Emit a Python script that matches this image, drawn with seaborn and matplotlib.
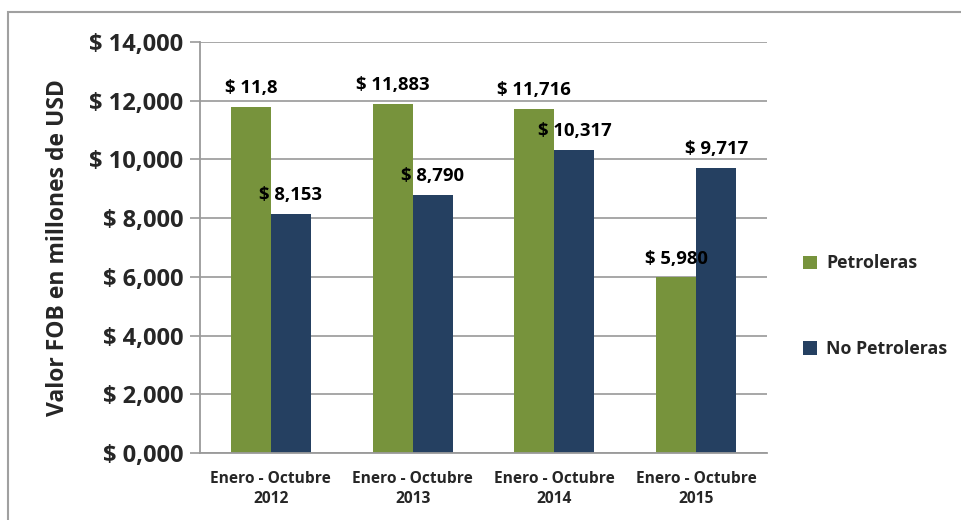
import matplotlib
matplotlib.use("Agg")
import matplotlib.pyplot as plt
import seaborn as sns
import pandas as pd
from matplotlib.patches import Rectangle

categories = ["Enero - Octubre\n2012", "Enero - Octubre\n2013", "Enero - Octubre\n2014", "Enero - Octubre\n2015"]
petroleras = [11800, 11883, 11716, 5980]
no_petroleras = [8153, 8790, 10317, 9717]
petroleras_labels = ["$ 11,8", "$ 11,883", "$ 11,716", "$ 5,980"]
no_petroleras_labels = ["$ 8,153", "$ 8,790", "$ 10,317", "$ 9,717"]
series = ["Petroleras", "No Petroleras"]
yticks = [0, 2000, 4000, 6000, 8000, 10000, 12000, 14000]
ytick_labels = ["$ 0,000", "$ 2,000", "$ 4,000", "$ 6,000", "$ 8,000", "$ 10,000", "$ 12,000", "$ 14,000"]

df = pd.DataFrame({
    "cat": categories * 2,
    "serie": [series[0]] * 4 + [series[1]] * 4,
    "val": petroleras + no_petroleras,
})

sns.set_theme(style="white")
plt.rcParams['font.family'] = ['Open Sans', 'DejaVu Sans']
plt.rcParams['font.weight'] = 'bold'

fig = plt.figure(figsize=(9.62, 5.2), dpi=100)
ax = fig.add_axes([200/962, 1-453/520, 567/962, 411/520])

palette = {"Petroleras": "#77933C", "No Petroleras": "#254061"}
sns.barplot(data=df, x="cat", y="val", hue="serie", palette=palette, ax=ax,
            width=0.565, saturation=1, edgecolor="none", legend=True)

for cont, labs in zip(ax.containers, [petroleras_labels, no_petroleras_labels]):
    ax.bar_label(cont, labels=labs, padding=7, fontsize=13.3, fontweight='bold', color='black')

ax.set_ylim(0, 14000)
ax.set_yticks(yticks)
ax.set_yticklabels(ytick_labels, fontsize=17, fontweight='bold')
ax.tick_params(axis='y', length=7, width=1.2, color='#9a9a9a', direction='out', pad=5, left=True)
ax.tick_params(axis='x', length=0, pad=13, labelsize=11.2)
for lab in ax.get_xticklabels():
    lab.set_fontweight('bold')
    lab.set_linespacing(1.3)
ax.yaxis.grid(True, color='#a0a0a0', linewidth=1.3)
ax.set_axisbelow(True)
ax.set_xlabel("")
ax.set_ylabel("Valor FOB en millones de USD", fontsize=16.5, fontweight='bold')
ax.yaxis.set_label_coords(-130/567, 0.5)

for s in ["top", "right"]:
    ax.spines[s].set_visible(False)
for s in ["left", "bottom"]:
    ax.spines[s].set_color('#9a9a9a')
    ax.spines[s].set_linewidth(1.3)

leg = ax.legend(loc='center left', bbox_to_anchor=(1.035, 0.357), frameon=False,
                fontsize=12.8, handlelength=0.8, handleheight=0.8, handletextpad=0.5,
                labelspacing=3.8)
for t in leg.get_texts():
    t.set_fontweight('bold')

fig.patches.append(Rectangle((8/962, -0.1), 1.1, 1.1 - 12/520, transform=fig.transFigure,
                             fill=False, edgecolor='#a0a0a0', linewidth=1.5))

fig.savefig("out.png", dpi=100)
